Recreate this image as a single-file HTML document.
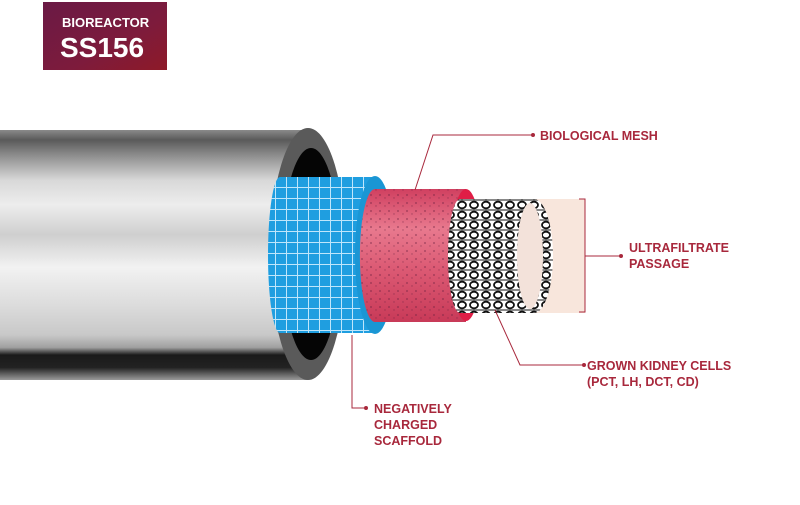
<!DOCTYPE html>
<html><head><meta charset="utf-8"><style>
body{margin:0;width:800px;height:500px;background:#fff;overflow:hidden;font-family:"Liberation Sans",sans-serif}
</style></head><body>
<svg width="800" height="500" viewBox="0 0 800 500" xmlns="http://www.w3.org/2000/svg">
<defs>
<linearGradient id="badge" x1="0" y1="0" x2="1" y2="1">
<stop offset="0" stop-color="#6a1a45"/><stop offset="0.6" stop-color="#7d1b3c"/><stop offset="1" stop-color="#8e1a28"/></linearGradient>
<linearGradient id="tube" x1="0" y1="0" x2="0" y2="1">
<stop offset="0" stop-color="#8a8a8a"/><stop offset="0.04" stop-color="#5a5a5a"/><stop offset="0.1" stop-color="#8c8c8c"/>
<stop offset="0.2" stop-color="#d8d8d8"/><stop offset="0.3" stop-color="#ededed"/><stop offset="0.42" stop-color="#cfcfcf"/>
<stop offset="0.55" stop-color="#f2f2f2"/><stop offset="0.7" stop-color="#dcdcdc"/><stop offset="0.82" stop-color="#c8c8c8"/>
<stop offset="0.87" stop-color="#a0a0a0"/><stop offset="0.9" stop-color="#1a1a1a"/><stop offset="0.95" stop-color="#222"/><stop offset="1" stop-color="#9a9a9a"/></linearGradient>
<pattern id="grid" width="11" height="11" patternUnits="userSpaceOnUse">
<rect width="11" height="11" fill="#1f9ee0"/><path d="M0 0.5H11M0.5 0V11" stroke="#bfe6fb" stroke-width="1"/></pattern>
<linearGradient id="pink" x1="0" y1="0" x2="0" y2="1">
<stop offset="0" stop-color="#d04060"/><stop offset="0.3" stop-color="#e8798e"/><stop offset="0.6" stop-color="#dc5a74"/><stop offset="1" stop-color="#c83a58"/></linearGradient>
<pattern id="dots" width="9" height="8" patternUnits="userSpaceOnUse">
<circle cx="2" cy="3" r="0.9" fill="#6a2040" opacity="0.6"/><circle cx="7" cy="6" r="0.7" fill="#6a2040" opacity="0.5"/></pattern>
<pattern id="cells" width="12" height="10" patternUnits="userSpaceOnUse">
<rect width="12" height="10" fill="#fff"/><ellipse cx="6" cy="5" rx="4" ry="3.3" fill="none" stroke="#111" stroke-width="1.8"/><path d="M0 0H12M0 10H12" stroke="#111" stroke-width="1"/></pattern>
</defs>
<rect x="43" y="2" width="124" height="68" fill="url(#badge)"/>
<text x="62" y="27" fill="#fff" font-size="13" font-weight="bold">BIOREACTOR</text>
<text x="60" y="57" fill="#fff" font-size="28" font-weight="bold">SS156</text>

<path d="M0 130 H308 A38 126 0 0 1 308 380 H0 Z" fill="url(#tube)"/>
<ellipse cx="308" cy="254" rx="38" ry="126" fill="#5a5a5a"/>
<ellipse cx="311" cy="254" rx="29" ry="106" fill="#050505"/>
<path d="M280 177 H375 V333 H280 A12 78 0 0 1 280 177 Z" fill="url(#grid)"/>
<ellipse cx="375" cy="255" rx="20" ry="79" fill="#1a96d4"/>
<path d="M375 189 H466 V322 H375 A15 66 0 0 1 375 189 Z" fill="url(#pink)"/>
<path d="M375 189 H466 V322 H375 A15 66 0 0 1 375 189 Z" fill="url(#dots)"/>
<ellipse cx="466" cy="255" rx="16" ry="66" fill="#e01e46"/>
<path d="M460 199 H534 V313 H460 A12 57 0 0 1 460 199 Z" fill="url(#cells)"/>
<rect x="534" y="199" width="51" height="114" fill="#f8e6dc"/>
<ellipse cx="534" cy="256" rx="19" ry="57" fill="url(#cells)"/>
<ellipse cx="530" cy="256" rx="13" ry="53" fill="#f3e2da"/>

<g stroke="#a8283c" stroke-width="1" fill="none">
<path d="M415 190 L433 135 H532"/>
<path d="M579 199 H585 V312 H579 M585 256 H620"/>
<path d="M495 310 L520 365 H583"/>
<path d="M352 335 V408 H365"/>
</g>
<g fill="#a8283c"><circle cx="533" cy="135" r="2"/><circle cx="621" cy="256" r="2"/><circle cx="584" cy="365" r="2"/><circle cx="366" cy="408" r="2"/></g>
<g fill="#a8283c" font-size="12.5" font-weight="bold">
<text x="540" y="140">BIOLOGICAL MESH</text>
<text x="629" y="252">ULTRAFILTRATE</text>
<text x="629" y="268">PASSAGE</text>
<text x="587" y="370">GROWN KIDNEY CELLS</text>
<text x="587" y="386">(PCT, LH, DCT, CD)</text>
<text x="374" y="413">NEGATIVELY</text>
<text x="374" y="429">CHARGED</text>
<text x="374" y="445">SCAFFOLD</text>
</g>
</svg>
</body></html>
